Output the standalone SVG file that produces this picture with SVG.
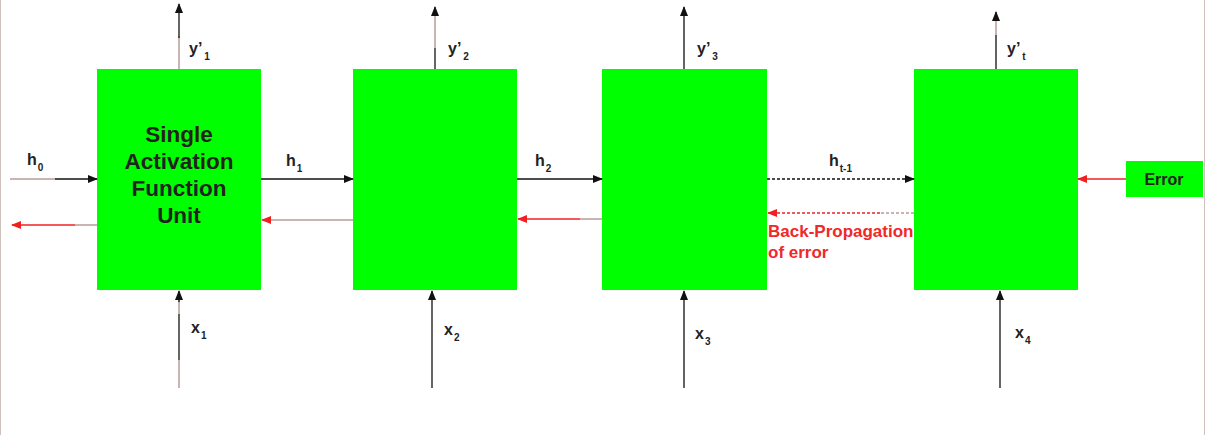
<svg xmlns="http://www.w3.org/2000/svg" width="1206" height="435" viewBox="0 0 1206 435">
<defs>
<marker id="ab" markerWidth="10" markerHeight="8" refX="9" refY="4" orient="auto" markerUnits="userSpaceOnUse"><path d="M0,0 L10,4 L0,8 z" fill="#111"/></marker>
<marker id="ar" markerWidth="10" markerHeight="8" refX="9" refY="4" orient="auto" markerUnits="userSpaceOnUse"><path d="M0,0 L10,4 L0,8 z" fill="#f02020"/></marker>
</defs>
<style>
.box{fill:#00ff00}
.lbl{font-family:"Liberation Sans",Arial,sans-serif;font-weight:bold;font-size:16px;fill:#222}
.sub{font-size:10px}
.big{font-family:"Liberation Sans",Arial,sans-serif;font-weight:bold;font-size:22.5px;fill:#222;text-anchor:middle}
.red{font-family:"Liberation Sans",Arial,sans-serif;font-weight:bold;font-size:17px;fill:#f02828}
.fw{stroke:#111;stroke-width:1.3;fill:none}
.pk{stroke:#c8b4b0;stroke-width:2;fill:none}
.bk{stroke:#f02020;stroke-width:1.3;fill:none}
</style>
<rect width="1206" height="435" fill="#fff"/>
<line x1="0.5" y1="0" x2="0.5" y2="435" stroke="#d0c0bc" stroke-width="1"/>
<line x1="1204.5" y1="0" x2="1204.5" y2="435" stroke="#d0c0bc" stroke-width="1"/>
<g id="node1"><rect class="box" x="97" y="69" width="164" height="221"/>
<text class="big" x="179" y="142">Single</text><text class="big" x="179" y="169">Activation</text><text class="big" x="179" y="196">Function</text><text class="big" x="179" y="223">Unit</text></g>
<g id="node2"><rect class="box" x="353" y="69" width="164" height="221"/></g>
<g id="node3"><rect class="box" x="602" y="69" width="165" height="221"/></g>
<g id="node4"><rect class="box" x="914" y="69" width="164" height="221"/></g>
<g id="error"><rect class="box" x="1126" y="161" width="77" height="36"/><text class="lbl" x="1164" y="185" text-anchor="middle">Error</text></g>
<g id="connectors">
<line class="pk" x1="179" y1="69" x2="179" y2="36"/><line class="fw" x1="179" y1="38" x2="179" y2="4" marker-end="url(#ab)"/>
<line class="fw" x1="435" y1="69" x2="435" y2="48"/><line class="pk" x1="435" y1="48" x2="435" y2="12"/><line class="fw" x1="435" y1="14" x2="435" y2="7" marker-end="url(#ab)"/>
<line class="fw" x1="684" y1="69" x2="684" y2="7" marker-end="url(#ab)"/>
<line class="fw" x1="996" y1="69" x2="996" y2="35"/><line class="pk" x1="996" y1="35" x2="996" y2="16"/><line class="fw" x1="996" y1="18" x2="996" y2="12" marker-end="url(#ab)"/>
<line class="pk" x1="179" y1="388" x2="179" y2="360"/><line class="fw" x1="179" y1="360" x2="179" y2="314"/><line class="pk" x1="179" y1="314" x2="179" y2="300"/><line class="fw" x1="179" y1="302" x2="179" y2="291" marker-end="url(#ab)"/>
<line class="fw" x1="432" y1="388" x2="432" y2="291" marker-end="url(#ab)"/>
<line class="fw" x1="684" y1="388" x2="684" y2="291" marker-end="url(#ab)"/>
<line class="fw" x1="1000" y1="388" x2="1000" y2="291" marker-end="url(#ab)"/>
<line class="pk" x1="10" y1="179" x2="55" y2="179"/><line class="fw" x1="55" y1="179" x2="97" y2="179" marker-end="url(#ab)"/>
<line class="fw" x1="261" y1="179" x2="353" y2="179" marker-end="url(#ab)"/>
<line class="fw" x1="517" y1="179" x2="602" y2="179" marker-end="url(#ab)"/>
<line class="fw" x1="767" y1="179" x2="914" y2="179" stroke-dasharray="3,2" marker-end="url(#ab)"/>
<line class="bk" x1="1126" y1="179" x2="1078" y2="179" marker-end="url(#ar)"/>
<line class="pk" x1="97" y1="225" x2="75" y2="225"/><line class="bk" x1="75" y1="225" x2="12" y2="225" marker-end="url(#ar)"/>
<line class="pk" x1="353" y1="220" x2="268" y2="220"/><line class="bk" x1="268" y1="220" x2="262" y2="220" marker-end="url(#ar)"/>
<line class="pk" x1="602" y1="219" x2="580" y2="219"/><line class="bk" x1="580" y1="219" x2="518" y2="219" marker-end="url(#ar)"/>
<line class="pk" x1="914" y1="213" x2="880" y2="213" stroke-dasharray="3,2"/><line class="bk" x1="880" y1="213" x2="768" y2="213" stroke-dasharray="3,2" marker-end="url(#ar)"/>
</g>
<g id="labels">
<text class="lbl" x="27" y="165">h<tspan class="sub" dx="1" dy="6">0</tspan></text>
<text class="lbl" x="286" y="166">h<tspan class="sub" dx="1" dy="6">1</tspan></text>
<text class="lbl" x="535" y="166">h<tspan class="sub" dx="1" dy="6">2</tspan></text>
<text class="lbl" x="829" y="166">h<tspan class="sub" dx="1" dy="6">t-1</tspan></text>
<text class="lbl" x="189" y="54">y’<tspan class="sub" dx="2" dy="6">1</tspan></text>
<text class="lbl" x="448" y="54">y’<tspan class="sub" dx="2" dy="6">2</tspan></text>
<text class="lbl" x="697" y="54">y’<tspan class="sub" dx="2" dy="6">3</tspan></text>
<text class="lbl" x="1007" y="54">y’<tspan class="sub" dx="2" dy="6">t</tspan></text>
<text class="lbl" x="191" y="333">x<tspan class="sub" dx="1" dy="6">1</tspan></text>
<text class="lbl" x="444" y="335">x<tspan class="sub" dx="1" dy="6">2</tspan></text>
<text class="lbl" x="695" y="339">x<tspan class="sub" dx="1" dy="6">3</tspan></text>
<text class="lbl" x="1015" y="338">x<tspan class="sub" dx="1" dy="6">4</tspan></text>
<text class="red" x="768" y="237">Back-Propagation</text>
<text class="red" x="768" y="258">of error</text>
</g>
</svg>
